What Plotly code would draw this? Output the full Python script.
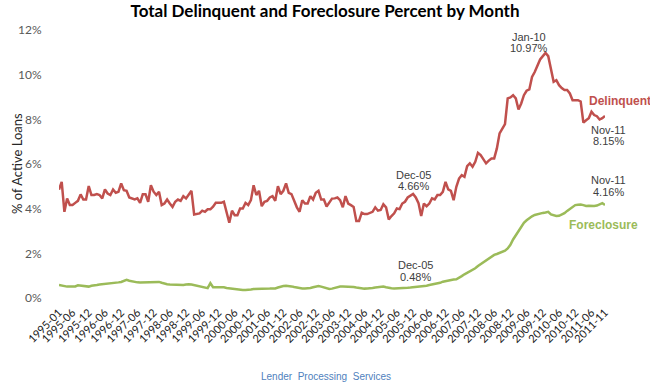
import plotly.graph_objects as go

# ---------------- data ----------------
YEARS = list(range(1995, 2012))
MONTHS = [f"{y}-{m:02d}" for y in YEARS for m in range(1, 13)][:203]  # 1995-01 .. 2011-11

DELINQUENT = [
    4.85, 5.20, 3.86, 4.46, 4.16, 4.16, 4.26, 4.35, 4.64, 4.41, 4.41, 5.01,
    4.61, 4.61, 4.65, 4.61, 4.46, 4.86, 4.68, 4.61, 4.86, 4.71, 4.76, 5.13,
    4.83, 4.80, 4.50, 4.46, 4.41, 4.46, 4.26, 4.65, 4.65, 4.31, 5.05, 4.76,
    4.61, 4.76, 4.16, 4.23, 4.41, 4.23, 4.08, 4.31, 4.41, 4.35, 4.56, 4.46,
    4.61, 4.80, 3.74, 3.77, 3.79, 3.91, 3.86, 3.97, 3.97, 4.09, 4.26, 4.26,
    4.26, 4.31, 3.86, 3.37, 3.91, 3.71, 3.71, 4.01, 4.01, 4.26, 4.16, 4.38,
    5.05, 4.61, 4.80, 4.11, 4.31, 4.35, 4.50, 4.56, 4.35, 5.01, 4.65, 4.80,
    5.13, 4.71, 4.65, 4.31, 4.06, 3.86, 4.38, 4.23, 4.23, 4.56, 4.41, 4.71,
    4.80, 4.41, 4.41, 4.10, 4.30, 4.45, 4.46, 4.50, 4.38, 4.06, 4.56, 4.23,
    4.16, 4.08, 3.45, 3.45, 3.82, 3.76, 3.76, 3.80, 3.86, 4.06, 3.91, 3.94,
    4.20, 4.06, 3.52, 3.67, 3.79, 4.01, 3.98, 4.23, 4.31, 4.50, 4.60, 4.66,
    4.50, 4.25, 3.67, 4.23, 4.11, 4.23, 4.46, 4.41, 4.61, 4.61, 4.75, 5.20,
    4.86, 4.80, 4.38, 4.98, 5.35, 5.50, 5.43, 5.90, 6.03, 5.88, 6.10, 6.50,
    6.40, 6.20, 6.03, 6.15, 6.25, 6.25, 6.70, 7.37, 7.60, 7.79, 8.94, 8.98,
    9.08, 8.94, 8.44, 8.71, 9.08, 9.28, 9.34, 9.90, 10.12, 10.40, 10.68, 10.83,
    10.97, 10.83, 10.20, 9.68, 9.75, 9.53, 9.40, 9.31, 9.31, 9.16, 8.86, 8.86,
    8.86, 8.80, 7.85, 7.96, 8.05, 8.34, 8.19, 8.14, 7.99, 8.05, 8.15,
]

FORECLOSURE = [
    0.58, 0.55, 0.52, 0.51, 0.51, 0.51, 0.52, 0.57, 0.55, 0.55, 0.53, 0.51,
    0.55, 0.58, 0.58, 0.60, 0.61, 0.63, 0.66, 0.67, 0.68, 0.69, 0.70, 0.72,
    0.75, 0.81, 0.77, 0.74, 0.72, 0.70, 0.69, 0.69, 0.69, 0.69, 0.69, 0.70,
    0.71, 0.72, 0.68, 0.64, 0.62, 0.61, 0.60, 0.59, 0.58, 0.58, 0.58, 0.60,
    0.62, 0.60, 0.57, 0.55, 0.52, 0.50, 0.46, 0.44, 0.66, 0.48, 0.48, 0.48,
    0.51, 0.48, 0.45, 0.43, 0.42, 0.40, 0.38, 0.37, 0.36, 0.36, 0.36, 0.38,
    0.40, 0.40, 0.39, 0.39, 0.40, 0.42, 0.42, 0.43, 0.43, 0.47, 0.52, 0.54,
    0.55, 0.55, 0.52, 0.49, 0.46, 0.43, 0.43, 0.43, 0.43, 0.45, 0.48, 0.51,
    0.54, 0.51, 0.48, 0.42, 0.40, 0.42, 0.46, 0.49, 0.51, 0.51, 0.51, 0.51,
    0.50, 0.49, 0.47, 0.45, 0.42, 0.42, 0.43, 0.43, 0.45, 0.47, 0.48, 0.50,
    0.51, 0.48, 0.45, 0.44, 0.43, 0.43, 0.43, 0.43, 0.44, 0.46, 0.47, 0.48,
    0.50, 0.51, 0.52, 0.52, 0.55, 0.58, 0.60, 0.62, 0.63, 0.68, 0.73, 0.76,
    0.79, 0.81, 0.83, 0.84, 0.90, 0.98, 1.06, 1.13, 1.18, 1.24, 1.33, 1.43,
    1.52, 1.60, 1.68, 1.78, 1.88, 1.93, 1.97, 2.02, 2.06, 2.12, 2.22, 2.38,
    2.62, 2.80, 3.04, 3.22, 3.37, 3.48, 3.58, 3.66, 3.72, 3.76, 3.79, 3.81,
    3.83, 3.86, 3.74, 3.70, 3.67, 3.68, 3.73, 3.80, 3.90, 3.98, 4.08, 4.16,
    4.18, 4.19, 4.16, 4.12, 4.13, 4.12, 4.12, 4.14, 4.18, 4.25, 4.16,
]

TICK_LABELS = [
    "1995-01", "1995-06", "1995-12", "1996-06", "1996-12", "1997-06", "1997-12",
    "1998-06", "1998-12", "1999-06", "1999-12", "2000-06", "2000-12", "2001-06",
    "2001-12", "2002-06", "2002-12", "2003-06", "2003-12", "2004-06", "2004-12",
    "2005-06", "2005-12", "2006-06", "2006-12", "2007-06", "2007-12", "2008-06",
    "2008-12", "2009-06", "2009-12", "2010-06", "2010-12", "2011-06", "2011-11",
]
Y_TICKS = [0, 2, 4, 6, 8, 10, 12]

SERIES_NAMES = ["Delinquent", "Foreclosure"]
CALLOUT_MONTHS = {"peak": "2010-01", "mid": "2005-12", "last": "2011-11"}

# ---------------- styling ----------------
RED = "#C0504D"
GREEN = "#9BBB59"
TXT = "#404040"
W, H = 650, 386
ML, MR, MT, MB = 59, 45, 30, 88
PW, PH = W - ML - MR, H - MT - MB

x_idx = list(range(len(MONTHS)))
tickvals = [MONTHS.index(t) for t in TICK_LABELS]


def px2paper(px, py):
    return (px - ML) / PW, (H - MB - py) / PH


def mon_label(ym):
    names = ["Jan", "Feb", "Mar", "Apr", "May", "Jun", "Jul", "Aug", "Sep", "Oct", "Nov", "Dec"]
    y, m = ym.split("-")
    return f"{names[int(m) - 1]}-{y[2:]}"


fig = go.Figure()
fig.add_trace(go.Scatter(x=x_idx, y=DELINQUENT, mode="lines", name=SERIES_NAMES[0],
                         line=dict(color=RED, width=2.5), cliponaxis=False))
fig.add_trace(go.Scatter(x=x_idx, y=FORECLOSURE, mode="lines", name=SERIES_NAMES[1],
                         line=dict(color=GREEN, width=2.5), cliponaxis=False))

anns = []


def txt(text, px, py, size=11, color=TXT, bold=False, xanchor="center",
        family="Liberation Sans, Arial, sans-serif", angle=0):
    x, y = px2paper(px, py)
    anns.append(dict(text=f"<b>{text}</b>" if bold else text, x=x, y=y, xref="paper", yref="paper",
                     xanchor=xanchor, yanchor="middle", showarrow=False, textangle=angle,
                     font=dict(size=size, color=color, family=family)))


ip = MONTHS.index(CALLOUT_MONTHS["peak"])
im = MONTHS.index(CALLOUT_MONTHS["mid"])
il = MONTHS.index(CALLOUT_MONTHS["last"])

txt(mon_label(MONTHS[ip]), 529, 37)
txt(f"{DELINQUENT[ip]:.2f}%", 529, 48)
txt(mon_label(MONTHS[il]), 608, 129.5)
txt(f"{DELINQUENT[il]:.2f}%", 608, 141)
txt(mon_label(MONTHS[il]), 608, 180)
txt(f"{FORECLOSURE[il]:.2f}%", 608, 192)
txt(mon_label(MONTHS[im]), 413, 175)
txt(f"{DELINQUENT[im]:.2f}%", 413, 186.5)
txt(mon_label(MONTHS[im]), 415, 265)
txt(f"{FORECLOSURE[im]:.2f}%", 415, 276.5)
txt(SERIES_NAMES[0], 587, 101, size=12, color=RED, bold=True, xanchor="left")
txt(SERIES_NAMES[1], 603, 225, size=12, color=GREEN, bold=True)
txt("Lender  Processing  Services", 326, 376, size=10, color="#4F81BD")
txt("% of Active Loans", 17, 164, size=13, color="#262626", family="Lato, Carlito, sans-serif", angle=-90)

fig.update_layout(
    width=W, height=H,
    margin=dict(l=ML, r=MR, t=MT, b=MB),
    paper_bgcolor="white", plot_bgcolor="white",
    showlegend=False,
    title=dict(text="<b>Total Delinquent and Foreclosure Percent by Month</b>",
               x=0.5, xref="container", xanchor="center",
               y=1 - 11 / H, yref="container", yanchor="middle",
               font=dict(family="Lato, Carlito, sans-serif", size=17, color="#000000")),
    annotations=anns,
    xaxis=dict(range=[0, len(MONTHS) - 1], tickmode="array", tickvals=tickvals, ticktext=TICK_LABELS,
               tickangle=-45, showgrid=False, zeroline=False, showline=False,
               ticks="outside", ticklen=3, tickcolor="rgba(0,0,0,0)",
               tickfont=dict(family="Lato, Carlito, sans-serif", size=11, color="#1a1a1a")),
    yaxis=dict(range=[0, 12], tickmode="array", tickvals=Y_TICKS,
               ticktext=[f"{v}%" for v in Y_TICKS], showgrid=False, zeroline=False, showline=False,
               ticks="outside", ticklen=14, tickcolor="rgba(0,0,0,0)",
               tickfont=dict(family="Lato, Carlito, sans-serif", size=12, color="#595959")),
)

fig.write_html("out.html", config={"displayModeBar": False},
               post_script="document.body.style.margin='0';document.body.style.overflow='hidden';")
